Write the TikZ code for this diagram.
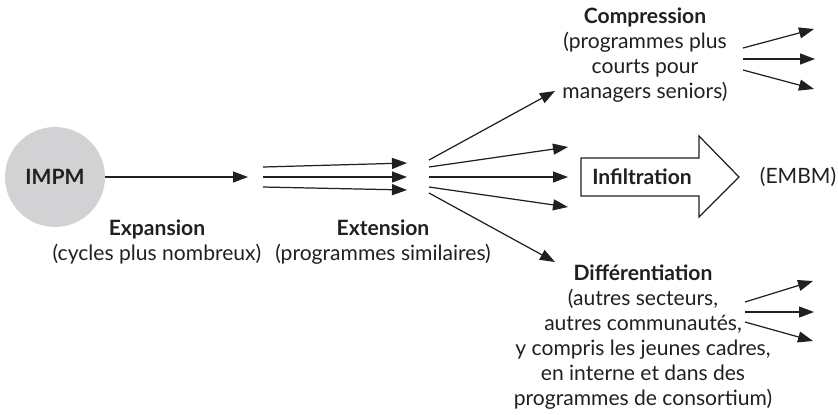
\documentclass[tikz,border=0pt]{standalone}
\usepackage{fontspec}
\setmainfont{Lato}
\usetikzlibrary{arrows.meta,positioning}
\definecolor{impmgrey}{RGB}{210,210,212}
\definecolor{inkgrey}{RGB}{35,31,32}
\newcommand{\blocksize}{\fontsize{12}{14.2}\selectfont}
\tikzset{
  flow/.style={-{Triangle[length=0.3cm,width=0.22cm]},line width=0.7pt,draw=inkgrey},
  textblock/.style={anchor=center,align=center,font=\blocksize,text=inkgrey},
  hub/.style={circle,fill=impmgrey,minimum size=2cm,inner sep=0pt,font=\blocksize\bfseries,text=inkgrey}
}
\begin{document}
\begin{tikzpicture}[x=0.02cm,y=-0.02cm]
                \useasboundingbox (0,0) rectangle (838,414);
                %% Expansion
                \node[hub] (impm) at (55,177) {IMPM};
                \coordinate (expEnd) at (248,177);
                \draw[flow] (impm.east) -- (expEnd);
                \node[textblock] (expansion) at (157,242) {\textbf{Expansion}\\(cycles plus nombreux)};
                %% Extension
                \coordinate (extA) at (263,167); \coordinate (extAEnd) at (407,163);
                \coordinate (extB) at (263,177); \coordinate (extBEnd) at (407,177);
                \coordinate (extC) at (263,187); \coordinate (extCEnd) at (407,190);
                \draw[flow] (extA) -- (extAEnd);
                \draw[flow] (extB) -- (extBEnd);
                \draw[flow] (extC) -- (extCEnd);
                \node[textblock] (extension) at (383,242) {\textbf{Extension}\\(programmes similaires)};
                %% fan
                \coordinate (fanA) at (429,160); \coordinate (fanAEnd) at (555,91);
                \coordinate (fanB) at (429,167); \coordinate (fanBEnd) at (568,147);
                \coordinate (fanC) at (429,177); \coordinate (fanCEnd) at (568,177);
                \coordinate (fanD) at (429,187); \coordinate (fanDEnd) at (568,207);
                \coordinate (fanE) at (429,193); \coordinate (fanEEnd) at (555,262);
                \draw[flow] (fanA) -- (fanAEnd);
                \draw[flow] (fanB) -- (fanBEnd);
                \draw[flow] (fanC) -- (fanCEnd);
                \draw[flow] (fanD) -- (fanDEnd);
                \draw[flow] (fanE) -- (fanEEnd);
                %% Compression
                \node[textblock] (compression) at (645,55) {\textbf{Compression}\\(programmes plus\\courts pour\\managers seniors)};
                \coordinate (compA) at (743,48); \coordinate (compAEnd) at (814,29);
                \coordinate (compB) at (743,59); \coordinate (compBEnd) at (815,59);
                \coordinate (compC) at (743,70); \coordinate (compCEnd) at (814,89);
                \draw[flow] (compA) -- (compAEnd);
                \draw[flow] (compB) -- (compBEnd);
                \draw[flow] (compC) -- (compCEnd);
                %% Infiltration
                \draw[line width=0.7pt,draw=inkgrey,fill=white] (581,158) -- (699,158) -- (699,136) -- (739,177) -- (699,217) -- (699,196) -- (581,196) -- cycle;
                \node[textblock] (infiltration) at (642,177) {\textbf{Infiltration}};
                \node[textblock] (embm) at (798,177) {(EMBM)};
                %% Differentiation
                \node[textblock] (differentiation) at (643,337) {\textbf{Différentiation}\\(autres secteurs,\\autres communautés,\\y compris les jeunes cadres,\\en interne et dans des\\programmes de consortium)};
                \coordinate (diffA) at (745,302); \coordinate (diffAEnd) at (813,281);
                \coordinate (diffB) at (745,312); \coordinate (diffBEnd) at (814,312);
                \coordinate (diffC) at (745,322); \coordinate (diffCEnd) at (813,341);
                \draw[flow] (diffA) -- (diffAEnd);
                \draw[flow] (diffB) -- (diffBEnd);
                \draw[flow] (diffC) -- (diffCEnd);
            \end{tikzpicture}
\end{document}
